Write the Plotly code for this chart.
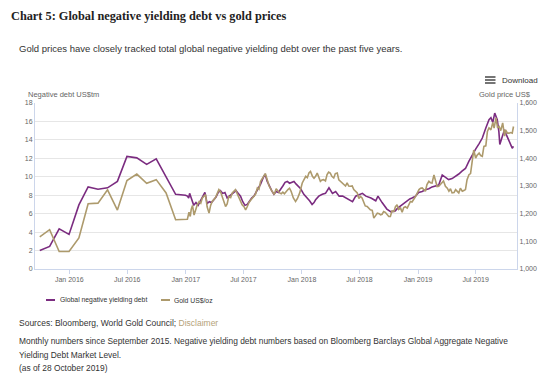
import plotly.graph_objects as go

# ---------------- data ----------------
debt_dates = [
    "2015-09-30", "2015-10-31", "2015-11-30", "2015-12-31", "2016-01-31", "2016-02-29",
    "2016-03-31", "2016-04-30", "2016-05-31", "2016-06-30", "2016-07-31", "2016-08-31",
    "2016-09-30", "2016-10-31", "2016-11-30", "2016-12-31",
    "2017-01-06", "2017-01-10", "2017-01-13", "2017-01-17", "2017-01-20", "2017-01-26",
    "2017-02-02", "2017-02-09", "2017-02-16", "2017-02-23", "2017-03-02", "2017-03-09",
    "2017-03-16", "2017-03-23", "2017-03-30", "2017-04-06", "2017-04-13", "2017-04-20",
    "2017-04-27", "2017-05-04", "2017-05-11", "2017-05-18", "2017-05-25", "2017-06-01",
    "2017-06-08", "2017-06-15", "2017-06-22", "2017-06-29", "2017-07-06", "2017-07-13",
    "2017-07-20", "2017-07-27", "2017-08-03", "2017-08-10", "2017-08-17", "2017-08-24",
    "2017-08-31", "2017-09-07", "2017-09-14", "2017-09-21", "2017-09-28", "2017-10-05",
    "2017-10-12", "2017-10-19", "2017-10-26", "2017-11-02", "2017-11-09", "2017-11-16",
    "2017-11-23", "2017-11-30", "2017-12-07", "2017-12-14", "2017-12-21", "2017-12-28",
    "2018-01-07", "2018-01-18", "2018-01-25", "2018-02-02", "2018-02-08", "2018-02-13",
    "2018-02-23", "2018-03-06", "2018-03-16", "2018-03-27", "2018-04-07", "2018-04-17",
    "2018-04-28", "2018-05-09", "2018-05-19", "2018-05-30", "2018-06-09", "2018-06-19",
    "2018-06-30", "2018-07-10", "2018-07-21", "2018-08-06", "2018-08-21", "2018-08-28",
    "2018-09-10", "2018-09-25", "2018-10-08", "2018-10-21", "2018-10-29", "2018-11-14",
    "2018-11-26", "2018-12-06", "2018-12-13", "2018-12-24", "2019-01-03", "2019-01-14",
    "2019-01-24", "2019-02-04", "2019-02-14", "2019-02-25", "2019-03-07", "2019-03-18",
    "2019-03-28", "2019-04-07", "2019-04-18", "2019-04-28", "2019-05-09", "2019-05-19",
    "2019-05-30", "2019-06-10", "2019-06-20", "2019-07-01", "2019-07-12", "2019-07-22",
    "2019-08-02", "2019-08-12", "2019-08-18", "2019-08-24", "2019-08-30", "2019-09-07",
    "2019-09-12", "2019-09-15", "2019-09-23", "2019-09-30", "2019-10-05", "2019-10-14",
    "2019-10-19", "2019-10-24", "2019-10-28",
]
debt_values = [
    2.0, 2.45, 4.35, 3.75, 6.95, 8.9,
    8.65, 8.8, 9.5, 12.2, 12.05, 11.35,
    11.95, 9.95, 8.1, 8.0,
    7.9, 7.7, 8.2, 7.8, 7.4, 6.9,
    7.2, 6.9, 7.4, 7.8, 8.3, 7.1,
    7.3, 7.2, 7.5, 7.8, 8.3, 8.5,
    8.2, 8.3, 7.7, 7.9, 8.1, 8.3,
    8.5, 8.2, 7.9, 7.3, 6.9, 7.0,
    7.4, 7.7, 7.9, 8.3, 8.8, 9.2,
    9.8, 10.3, 9.5, 8.9, 8.5, 8.1,
    8.4, 8.3, 8.6, 9.0, 9.4, 9.5,
    9.3, 9.4, 9.5, 9.2, 9.0, 8.7,
    8.1, 7.7, 7.4, 7.0, 7.2, 7.5,
    7.9, 8.1, 8.2, 8.8, 8.2, 8.4,
    7.9, 7.9, 7.7, 7.5, 7.3, 7.9,
    8.1, 8.2, 7.9, 7.7, 7.4, 7.9,
    7.2, 6.5, 6.2, 6.3, 6.6, 7.0,
    7.4, 7.6, 7.7, 7.9, 8.3, 8.4,
    8.6, 8.7, 8.9, 9.0, 9.1, 10.2,
    9.9, 9.7, 9.8, 10.0, 10.3, 10.6,
    10.9, 11.7, 12.4, 13.0, 13.6, 14.2,
    15.3, 16.2, 16.4, 15.9, 16.9, 16.2,
    14.9, 13.5, 14.4, 15.1, 14.6, 13.8,
    13.5, 13.1, 13.3,
]

gold_dates = [
    "2015-09-30", "2015-10-31", "2015-11-30", "2015-12-31", "2016-01-31", "2016-02-29",
    "2016-03-31", "2016-04-30", "2016-05-31", "2016-06-30", "2016-07-31", "2016-08-31",
    "2016-09-30", "2016-10-31", "2016-11-30", "2016-12-31",
    "2017-01-06", "2017-01-11", "2017-01-15", "2017-01-18", "2017-01-22", "2017-01-27",
    "2017-02-01", "2017-02-06", "2017-02-12", "2017-02-17", "2017-02-22", "2017-02-27",
    "2017-03-04", "2017-03-09", "2017-03-15", "2017-03-20", "2017-03-25", "2017-04-04",
    "2017-04-10", "2017-04-15", "2017-04-20", "2017-04-25", "2017-05-01", "2017-05-06",
    "2017-05-11", "2017-05-16", "2017-05-22", "2017-05-27", "2017-06-06", "2017-06-11",
    "2017-06-16", "2017-06-22", "2017-06-27", "2017-07-03", "2017-07-08", "2017-07-13",
    "2017-07-18", "2017-07-25", "2017-08-03", "2017-08-08", "2017-08-14", "2017-08-19",
    "2017-08-24", "2017-09-01", "2017-09-08", "2017-09-12", "2017-09-15", "2017-09-20",
    "2017-09-26", "2017-10-01", "2017-10-06", "2017-10-12", "2017-10-17", "2017-10-23",
    "2017-10-28", "2017-11-02", "2017-11-07", "2017-11-12", "2017-11-18", "2017-11-23",
    "2017-11-28", "2017-12-05", "2017-12-12", "2017-12-18", "2017-12-25", "2018-01-02",
    "2018-01-08", "2018-01-13", "2018-01-18", "2018-01-23", "2018-01-28", "2018-02-03",
    "2018-02-08", "2018-02-13", "2018-02-18", "2018-02-23", "2018-02-28", "2018-03-05",
    "2018-03-10", "2018-03-16", "2018-03-21", "2018-03-26", "2018-03-31", "2018-04-05",
    "2018-04-11", "2018-04-16", "2018-04-22", "2018-04-27", "2018-05-02", "2018-05-08",
    "2018-05-13", "2018-05-18", "2018-05-23", "2018-05-28", "2018-06-02", "2018-06-08",
    "2018-06-13", "2018-06-18", "2018-06-24", "2018-06-29", "2018-07-04", "2018-07-09",
    "2018-07-14", "2018-07-19", "2018-07-25", "2018-08-04", "2018-08-10", "2018-08-15",
    "2018-08-20", "2018-08-26", "2018-09-01", "2018-09-05", "2018-09-10", "2018-09-15",
    "2018-09-20", "2018-09-26", "2018-10-01", "2018-10-06", "2018-10-11", "2018-10-17",
    "2018-10-22", "2018-10-27", "2018-11-01", "2018-11-07", "2018-11-12", "2018-11-17",
    "2018-11-22", "2018-11-28", "2018-12-03", "2018-12-08", "2018-12-13", "2018-12-18",
    "2018-12-24", "2019-01-04", "2019-01-09", "2019-01-14", "2019-01-19", "2019-01-24",
    "2019-01-29", "2019-02-04", "2019-02-09", "2019-02-14", "2019-02-20", "2019-02-25",
    "2019-03-02", "2019-03-07", "2019-03-12", "2019-03-18", "2019-03-22", "2019-03-28",
    "2019-04-03", "2019-04-08", "2019-04-13", "2019-04-18", "2019-04-24", "2019-04-29",
    "2019-05-04", "2019-05-09", "2019-05-14", "2019-05-20", "2019-05-25", "2019-05-30",
    "2019-06-04", "2019-06-10", "2019-06-15", "2019-06-20", "2019-06-25", "2019-07-01",
    "2019-07-05", "2019-07-12", "2019-07-17", "2019-07-22", "2019-07-27", "2019-08-02",
    "2019-08-07", "2019-08-12", "2019-08-18", "2019-08-24", "2019-08-28", "2019-09-03",
    "2019-09-08", "2019-09-13", "2019-09-18", "2019-09-24", "2019-09-30", "2019-10-03",
    "2019-10-09", "2019-10-14", "2019-10-19", "2019-10-24", "2019-10-28",
]
gold_values = [
    1116, 1142, 1063, 1063, 1112, 1236,
    1238, 1286, 1213, 1320, 1343, 1310,
    1323, 1275, 1178, 1178,
    1180, 1205, 1190, 1215, 1230, 1195,
    1214, 1232, 1244, 1238, 1257, 1262,
    1269, 1225, 1202, 1230, 1244, 1257,
    1275, 1287, 1280, 1262, 1245, 1226,
    1235, 1262, 1258, 1275, 1287, 1275,
    1262, 1250, 1232, 1225, 1214, 1225,
    1239, 1250, 1262, 1270, 1293, 1288,
    1317, 1335, 1345, 1330, 1317, 1300,
    1287, 1278, 1269, 1290, 1281, 1275,
    1272, 1278, 1272, 1280, 1287, 1292,
    1281, 1257, 1244, 1255, 1275, 1311,
    1322, 1335, 1330, 1347, 1353, 1335,
    1328, 1335, 1347, 1330, 1317, 1322,
    1323, 1318, 1341, 1350, 1347, 1335,
    1329, 1345, 1347, 1322, 1317, 1312,
    1305, 1300, 1311, 1300, 1299, 1300,
    1287, 1282, 1275, 1255, 1262, 1257,
    1244, 1228, 1226, 1214, 1212, 1184,
    1192, 1202, 1200, 1196, 1198, 1208,
    1205, 1196, 1190, 1190, 1210, 1208,
    1225, 1232, 1215, 1220, 1205, 1222,
    1225, 1220, 1232, 1244, 1242, 1250,
    1262, 1287, 1292, 1293, 1285, 1281,
    1305, 1317, 1312, 1311, 1340, 1323,
    1298, 1299, 1305, 1311, 1318, 1299,
    1292, 1281, 1290, 1275, 1276, 1287,
    1280, 1275, 1292, 1281, 1284, 1287,
    1323, 1341, 1345, 1383, 1430, 1401,
    1410, 1419, 1410, 1407, 1443, 1445,
    1497, 1510, 1503, 1530, 1509, 1546,
    1510, 1515, 1500, 1528, 1480, 1503,
    1491, 1491, 1493, 1491, 1515,
]

x_tick_vals = ["2016-01-01", "2016-07-01", "2017-01-01", "2017-07-01",
               "2018-01-01", "2018-07-01", "2019-01-01", "2019-07-01"]
x_tick_text = ["Jan 2016", "Jul 2016", "Jan 2017", "Jul 2017",
               "Jan 2018", "Jul 2018", "Jan 2019", "Jul 2019"]

debt_name = "Global negative yielding debt"
gold_name = "Gold US$/oz"

# ---------------- styling ----------------
PURPLE = "#7B2C80"
GOLD = "#AD9A6C"
AXIS = "#ccd6eb"
GRID = "#e6e6e6"
LABEL = "#666666"
TEXT = "#333333"
SANS = "Liberation Sans, Arial, sans-serif"

# page has an 8px body margin, so the figure is drawn 8px in from the top-left
OFF = 8
W, H = 550 - OFF, 379 - OFF
# plot area in page pixels: x 35..517, y 103..269
PX0, PX1, PY0, PY1 = 35, 517, 103, 269
L, R, T, B = PX0 - OFF, W - (PX1 - OFF), PY0 - OFF, H - (PY1 - OFF)
PW, PH = PX1 - PX0, PY1 - PY0


def xp(px):
    return (px - PX0) / PW


def yp(py):
    return (PY1 - py) / PH


fig = go.Figure()
fig.add_trace(go.Scatter(x=debt_dates, y=debt_values, name=debt_name,
                         mode="lines", line=dict(color=PURPLE, width=1.6), yaxis="y"))
fig.add_trace(go.Scatter(x=gold_dates, y=gold_values, name=gold_name,
                         mode="lines", line=dict(color=GOLD, width=1.6), yaxis="y2"))

annotations = [
    dict(text="<b>Chart 5: Global negative yielding debt vs gold prices</b>",
         x=xp(9), y=yp(16), xanchor="left", yanchor="middle",
         font=dict(family="Liberation Serif, serif", size=12.3, color="#222222")),
    dict(text="Gold prices have closely tracked total global negative yielding debt over the past five years.",
         x=xp(17), y=yp(48), xanchor="left", yanchor="middle",
         font=dict(family=SANS, size=9.5, color=TEXT)),
    dict(text="Download", x=xp(500), y=yp(80), xanchor="left", yanchor="middle",
         font=dict(family=SANS, size=8, color=TEXT)),
    dict(text="Negative debt US$tm", x=xp(26), y=yp(94.5), xanchor="left", yanchor="middle",
         font=dict(family=SANS, size=7.5, color=LABEL)),
    dict(text="Gold price US$", x=xp(533), y=yp(94.5), xanchor="right", yanchor="middle",
         font=dict(family=SANS, size=7.5, color=LABEL)),
    dict(text=debt_name, x=xp(57.5), y=yp(300), xanchor="left", yanchor="middle",
         font=dict(family=SANS, size=6.8, color=TEXT)),
    dict(text=gold_name, x=xp(171.5), y=yp(300), xanchor="left", yanchor="middle",
         font=dict(family=SANS, size=6.8, color=TEXT)),
    dict(text="Sources: Bloomberg, World Gold Council; <span style='color:#B5A27A'>Disclaimer</span>",
         x=xp(17), y=yp(323), xanchor="left", yanchor="middle",
         font=dict(family=SANS, size=8.5, color=TEXT)),
    dict(text="Monthly numbers since September 2015. Negative yielding debt numbers based on Bloomberg Barclays Global Aggregate Negative",
         x=xp(17), y=yp(341), xanchor="left", yanchor="middle",
         font=dict(family=SANS, size=8.4, color=TEXT)),
    dict(text="Yielding Debt Market Level.",
         x=xp(17), y=yp(354.5), xanchor="left", yanchor="middle",
         font=dict(family=SANS, size=8.4, color=TEXT)),
    dict(text="(as of 28 October 2019)",
         x=xp(17), y=yp(368), xanchor="left", yanchor="middle",
         font=dict(family=SANS, size=8.4, color=TEXT)),
]
for a in annotations:
    a.update(xref="paper", yref="paper", showarrow=False)

shapes = []
# hamburger icon of the export menu
for py in (77, 80, 83):
    shapes.append(dict(type="line", xref="paper", yref="paper",
                       x0=xp(485), x1=xp(495.5), y0=yp(py), y1=yp(py),
                       line=dict(color="#666666", width=1.8)))
# legend keys
for x0, x1, c in ((46, 55, PURPLE), (161, 170, GOLD)):
    shapes.append(dict(type="line", xref="paper", yref="paper",
                       x0=xp(x0), x1=xp(x1), y0=yp(300), y1=yp(300),
                       line=dict(color=c, width=2)))

fig.update_layout(
    width=W, height=H, autosize=False,
    margin=dict(l=L, r=R, t=T, b=B, pad=0, autoexpand=False),
    paper_bgcolor="white", plot_bgcolor="white",
    font=dict(family=SANS, color=LABEL),
    showlegend=False,
    xaxis=dict(type="date", range=["2015-09-15", "2019-11-08"],
               tickmode="array", tickvals=x_tick_vals, ticktext=x_tick_text,
               ticks="outside", ticklen=4, tickcolor=AXIS, tickwidth=1,
               showline=True, linecolor=AXIS, linewidth=1, showgrid=False, zeroline=False,
               tickfont=dict(family=SANS, size=7, color=LABEL)),
    yaxis=dict(range=[0, 18], dtick=2, tick0=0, showgrid=True, gridcolor=GRID, gridwidth=1,
               showline=True, linecolor=AXIS, linewidth=1, zeroline=False, ticks="",
               tickfont=dict(family=SANS, size=7, color=LABEL)),
    yaxis2=dict(range=[1000, 1600], dtick=100, tick0=1000, overlaying="y", side="right",
                tickformat=",", showgrid=False, showline=True, linecolor=AXIS, linewidth=1,
                zeroline=False, ticks="",
                tickfont=dict(family=SANS, size=7, color=LABEL)),
    annotations=annotations,
    shapes=shapes,
)

fig.write_html("out.html")
